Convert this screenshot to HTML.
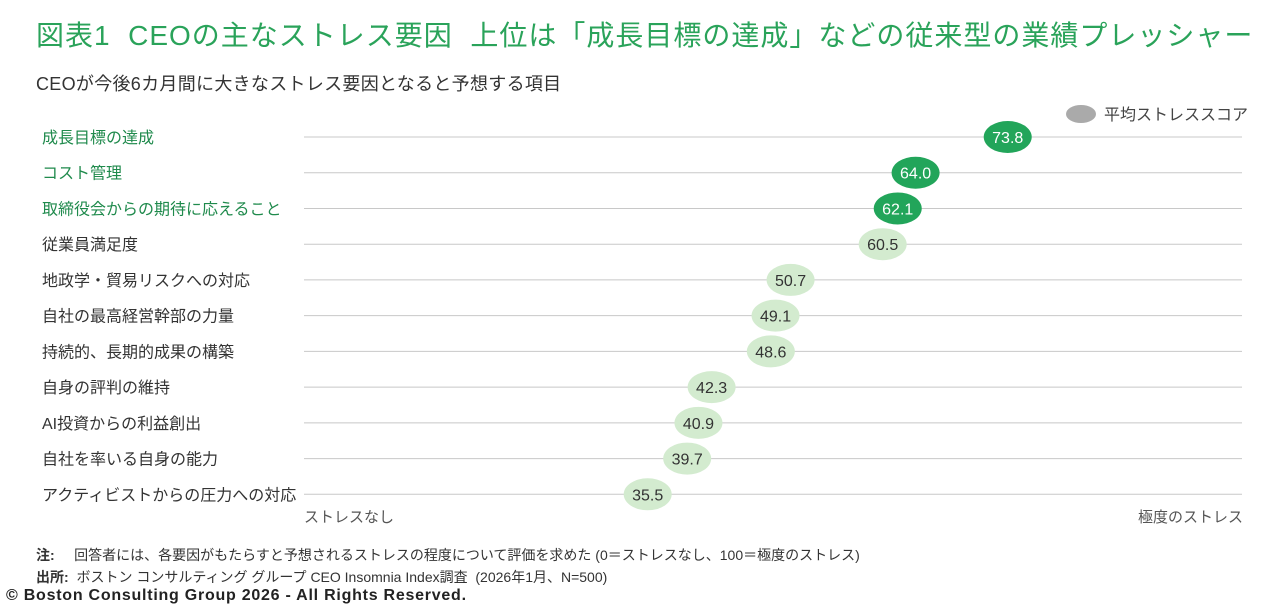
<!DOCTYPE html>
<html><head><meta charset="utf-8"><style>
body{margin:0;width:1280px;height:610px;background:#fff;font-family:"Liberation Sans","Noto Sans CJK JP",sans-serif;position:relative;overflow:hidden}
.t{position:absolute;white-space:nowrap}
</style></head><body>
<div class="t" style="left:36px;top:14px;font-size:28px;color:#2aa35a;letter-spacing:1px">図表1&nbsp;&nbsp;CEOの主なストレス要因&nbsp;&nbsp;上位は「成長目標の達成」などの従来型の業績プレッシャー</div>
<div class="t" style="left:36px;top:70px;font-size:18px;color:#333;letter-spacing:0.3px">CEOが今後6カ月間に大きなストレス要因となると予想する項目</div>
<div class="t" style="left:1066px;top:101px;font-size:16px;color:#444"><span style="display:inline-block;width:30px;height:18px;border-radius:50%;background:#aaa;vertical-align:-3px;margin-right:8px"></span>平均ストレススコア</div>
<svg id="chart" width="1280" height="610" style="position:absolute;left:0;top:0"></svg>
<div class="t" style="left:304px;top:506px;font-size:15px;color:#555">ストレスなし</div>
<div class="t" style="left:1138px;top:506px;font-size:15px;color:#555">極度のストレス</div>
<div class="t" style="left:36px;top:545px;font-size:14px;color:#333"><b>注:</b>&nbsp;&nbsp;&nbsp;&nbsp;&nbsp;回答者には、各要因がもたらすと予想されるストレスの程度について評価を求めた (0＝ストレスなし、100＝極度のストレス)</div>
<div class="t" style="left:36px;top:567px;font-size:14px;color:#333"><b>出所:</b>&nbsp;&nbsp;ボストン コンサルティング グループ CEO Insomnia Index調査&nbsp;&nbsp;(2026年1月、N=500)</div>
<div class="t" style="left:6px;top:587px;font-size:16px;font-weight:bold;color:#222;letter-spacing:0.75px">© Boston Consulting Group 2026 - All Rights Reserved.</div>
<script>
const categories=["成長目標の達成","コスト管理","取締役会からの期待に応えること","従業員満足度","地政学・貿易リスクへの対応","自社の最高経営幹部の力量","持続的、長期的成果の構築","自身の評判の維持","AI投資からの利益創出","自社を率いる自身の能力","アクティビストからの圧力への対応"];
const values=[73.8,64.0,62.1,60.5,50.7,49.1,48.6,42.3,40.9,39.7,35.5];
const highlight=[true,true,true,false,false,false,false,false,false,false,false];
const svg=document.getElementById('chart');
const NS='http://www.w3.org/2000/svg';
const x=v=>314+v*9.4;
const y=i=>137+i*35.73;
categories.forEach((c,i)=>{
  const l=document.createElementNS(NS,'line');
  
  
  l.setAttribute('x1',304);l.setAttribute('x2',1242);l.setAttribute('y1',y(i));l.setAttribute('y2',y(i));
  l.setAttribute('stroke','#c8c8c8');l.setAttribute('stroke-width','1');svg.appendChild(l);
  const t=document.createElementNS(NS,'text');
  
  
  t.setAttribute('x',42);t.setAttribute('y',y(i)+6);t.setAttribute('font-size','16');
  t.setAttribute('fill',highlight[i]?'#1f8a4c':'#333');t.textContent=c;svg.appendChild(t);
});
values.forEach((v,i)=>{
  const e=document.createElementNS(NS,'ellipse');
  
  
  e.setAttribute('cx',x(v));e.setAttribute('cy',y(i));e.setAttribute('rx',24);e.setAttribute('ry',16);
  e.setAttribute('fill',highlight[i]?'#22a55a':'#d3ebcf');svg.appendChild(e);
  const t=document.createElementNS(NS,'text');
  
  
  t.setAttribute('x',x(v));t.setAttribute('y',y(i)+6);t.setAttribute('text-anchor','middle');t.setAttribute('font-size','16');
  t.setAttribute('fill',highlight[i]?'#fff':'#333');t.textContent=v.toFixed(1);svg.appendChild(t);
});
</script>
</body></html>
